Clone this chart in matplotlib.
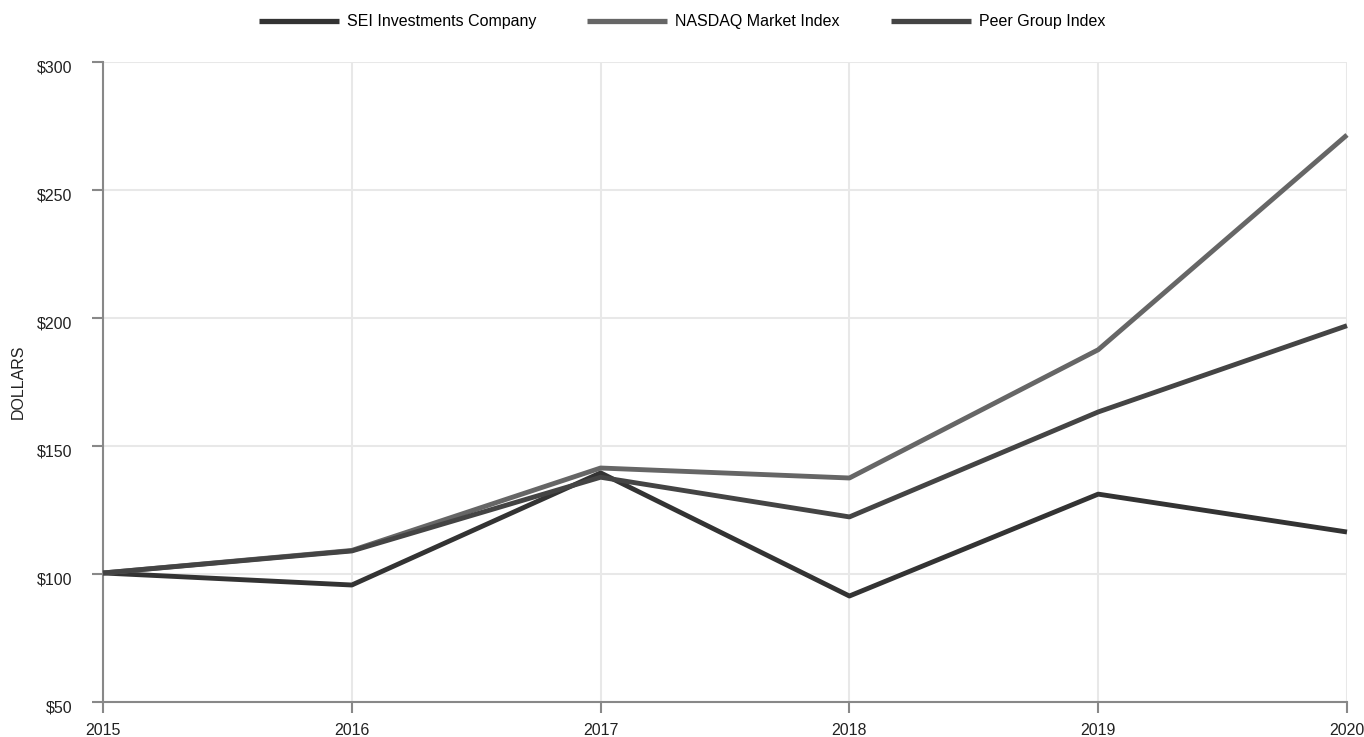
import matplotlib.pyplot as plt
import matplotlib.transforms as mtransforms

plt.rcParams['font.family'] = ['Liberation Sans', 'DejaVu Sans']

# Cumulative total return, $100 invested in 2015
years = [2015, 2016, 2017, 2018, 2019, 2020]
sei = [100.4, 95.7, 139.5, 91.4, 131.2, 116.4]
nasdaq = [100.4, 109.2, 141.4, 137.5, 187.6, 271.5]
peer = [100.4, 109.0, 137.8, 122.3, 163.3, 197.0]

series_names = ['SEI Investments Company', 'NASDAQ Market Index', 'Peer Group Index']
series_colors = ['#333333', '#666666', '#444444']

fig = plt.figure(figsize=(13.64, 7.37), dpi=100)
ax = fig.add_axes([103 / 1364, 35 / 737, 1244 / 1364, 640 / 737])

for vals, name, col in zip([sei, nasdaq, peer], series_names, series_colors):
    ax.plot(years, vals, color=col, linewidth=3.5, label=name,
            solid_capstyle='butt', clip_on=False, zorder=3)

ax.set_xlim(2015, 2020)
ax.set_ylim(50, 300)
ax.set_xticks(years)
ax.set_yticks([50, 100, 150, 200, 250, 300])
ax.set_yticklabels(['$50', '$100', '$150', '$200', '$250', '$300'])
ax.tick_params(axis='both', labelsize=11.5, colors='#888888', labelcolor='#222222',
               length=8, width=1.5)
ax.tick_params(axis='y', pad=14)
ax.tick_params(axis='x', pad=7)
ax.grid(True, color='#e8e8e8', linewidth=1.5, zorder=0)

# y labels sit a little below their ticks in the original
shift = mtransforms.ScaledTranslation(0, -4 / 100, fig.dpi_scale_trans)
for lbl in ax.get_yticklabels():
    lbl.set_transform(lbl.get_transform() + shift)

for side in ['top', 'right']:
    ax.spines[side].set_visible(False)
for side in ['left', 'bottom']:
    ax.spines[side].set_color('#888888')
    ax.spines[side].set_linewidth(1.5)

ax.set_ylabel('DOLLARS', fontsize=11.5, color='#222222', labelpad=8)

leg = fig.legend(loc='upper center', bbox_to_anchor=(0.5, 1.0), ncol=3, frameon=False,
                 fontsize=11.5, handlelength=5.0, columnspacing=3.2, handletextpad=0.5)
for h in leg.legend_handles:
    h.set_linewidth(3.8)

fig.savefig('out.png', dpi=100)
